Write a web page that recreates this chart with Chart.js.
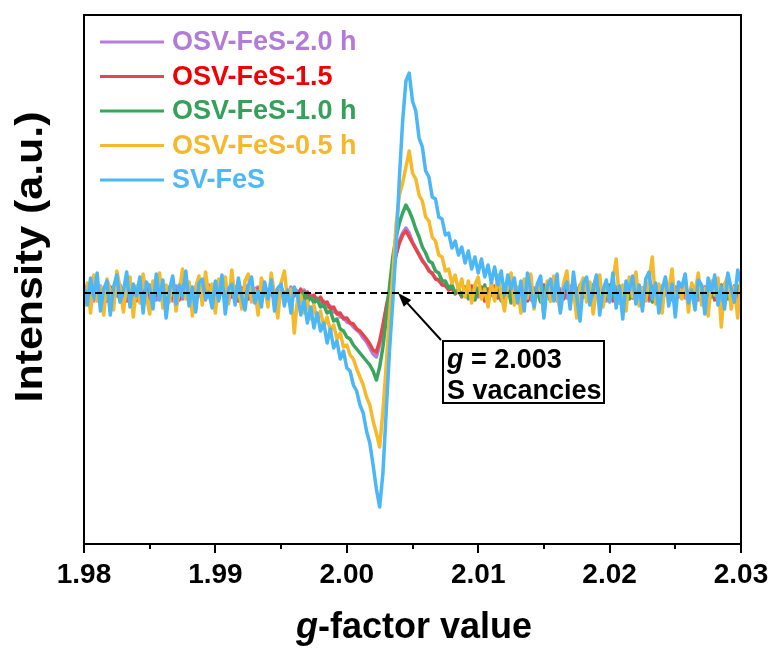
<!DOCTYPE html>
<html>
<head>
<meta charset="utf-8">
<script src="https://cdn.jsdelivr.net/npm/chart.js@4.4.1/dist/chart.umd.min.js"></script>
<style>
  html, body { margin: 0; padding: 0; background: #fff; }
  #wrap { width: 774px; height: 648px; }
</style>
</head>
<body>
<div id="wrap"><canvas id="epr" width="774" height="648"></canvas></div>
<script>
// sweep: g from 1.98 to 2.03, one sample every 0.00025
const gStart = 1.98;
const gStep = 0.00025;
const gTicks = [1.98, 1.99, 2.00, 2.01, 2.02, 2.03];
const gMinorTicks = [1.985, 1.995, 2.005, 2.015, 2.025];

const seriesNames = ["OSV-FeS-2.0 h", "OSV-FeS-1.5", "OSV-FeS-1.0 h", "OSV-FeS-0.5 h", "SV-FeS"];

// intensities (a.u.)
const osv20 = [
  5, -6, 3, -8, 4, 7, -5, 2, -7, 6,  -3, 8, -6, 1, -4, 7, -8, 3, 5, -6,
  8, -2, -7, 4, 6, -5, 2, -8, 7, -1,  -6, 5, 3, -8, 6, -2, 4, -7, 8, -4,
  2, -6, 5, 7, -8, 3, -3, 6, -5, 8,  -2, -7, 4, 6, -4, 1, -8, 7, 3, -6,
  5, -1, -7, 6, -3, 2, -6, 3, -7, -2,  -6, -5, -10, -8, -14, -13, -19, -19, -24, -24,
  -29, -30, -34, -37, -40, -45, -49, -55, -61, -64,  -52, -35, -16, 0, 22, 39, 52, 60, 65, 60,
  51, 45, 39, 33, 28, 23, 19, 15, 12, 9,  7, 4, 4, 0, 2, -3, 4, -6, 2, 7,
  -4, 5, -7, 1, 6, -3, 8, -6, 3, -2,  7, -8, 4, 6, -4, 2, -7, 5, -1, 8,
  -6, 3, -3, 6, -8, 4, 1, -5, 7, -2,  5, -7, 8, -4, 2, -6, 6, -1, 4, -8,
  3, 5, -6, 7, -2, -5, 2, 8, -7, 4,  -3, 6, -8, 1, 5, -6, 7, -2, 3, -7,
  6, -4, 8, -5, 1, -3, 6, -7, 4, 2,  -6, 7, -3, 5, -8, 3, 6, -4, 2, -7,
  5
];
const osv15 = [
  -4, 6, -7, 3, 8, -5, 2, -8, 6, -2,  7, -6, 4, -8, 5, 1, -7, 8, -3, 4,
  -6, 7, -2, 5, -8, 3, 6, -5, 2, -7,  8, -3, 5, -6, 1, 7, -8, 4, -2, 6,
  -5, 3, 8, -7, 2, -4, 6, -8, 5, 1,  -6, 7, -3, 4, -7, 8, -2, 5, -8, 3,
  6, -4, 2, -7, 5, -3, 4, -8, 1, -5,  -2, -8, -4, -11, -9, -16, -14, -21, -20, -26,
  -25, -30, -31, -36, -38, -42, -46, -51, -57, -59,  -48, -32, -14, 2, 22, 38, 50, 58, 62, 56,
  50, 44, 38, 32, 28, 22, 20, 14, 13, 8,  8, 3, 5, -1, 3, -4, 5, -3, 7, -6,
  2, 6, -8, 4, -2, 7, -5, 3, -7, 8,  -1, 5, -6, 2, 7, -8, 4, -3, 6, -5,
  8, -2, 3, -7, 5, 1, -6, 7, -4, 2,  -8, 6, -1, 4, -7, 8, -3, 5, -6, 2,
  7, -8, 3, -4, 6, -2, 8, -5, 1, -7,  5, 3, -6, 7, -3, 4, -8, 6, -2, 5,
  -7, 8, -4, 2, -6, 7, -1, 4, -8, 6,  -3, 5, -7, 3, 8, -5, 1, -6, 7, -4,
  4
];
const osv10 = [
  5, -8, 10, -4, 7, -10, 3, 9, -6, 2,  8, -9, 4, 11, -7, 6, -3, 9, -10, 5,
  2, -8, 10, -4, 6, -11, 3, 8, -6, 4,  -2, 10, -7, 3, -9, 6, 7, -4, 1, -8,
  6, -5, 9, -10, 2, 5, -7, 8, -2, -9,  4, 8, -6, 1, -8, 6, -4, 7, -9, 3,
  5, -7, 2, -10, 4, -2, -8, 1, -9, -4,  -10, -6, -14, -12, -20, -18, -28, -26, -36, -38,
  -44, -46, -52, -56, -60, -64, -68, -72, -78, -87,  -74, -54, -26, 6, 36, 56, 70, 80, 88, 82,
  74, 64, 56, 46, 40, 32, 30, 22, 20, 12,  12, 5, 8, 0, 4, -3, 6, -5, 3, -7,
  5, -2, 8, -9, 4, -5, 9, -8, 2, 7,  -10, 5, -3, 8, -7, 3, 10, -6, 1, -9,
  6, 4, -8, 9, -2, -10, 5, 7, -5, 2,  -8, 8, -4, 6, -9, 3, 9, -7, 1, -5,
  8, -3, 6, -10, 4, 7, -6, 2, 9, -8,  3, -4, 8, -9, 5, 1, -7, 10, -3, 6,
  -8, 4, -2, 9, -6, 3, -10, 7, 0, -5,  8, -4, 6, -8, 2, 9, -6, 4, -9, 7,
  -3
];
const osv05 = [
  -14, 10, -20, 18, -8, 6, -22, 14, 3, -17,  22, 5, -19, 9, 16, -24, 7, -10, 19, -3,
  -21, 12, 4, 20, -15, 8, -9, 15, -18, 2,  24, -6, 11, -23, 6, 17, -12, 21, -4, 9,
  -20, 14, 1, 16, -11, 23, -7, 5, -16, 12,  19, -9, 3, -22, 15, 6, -14, 20, -2, -25,
  10, 22, -8, 4, -40, -6, -2, -20, -8, -26,  -12, -28, -18, -34, -24, -38, -32, -46, -40, -54,
  -52, -62, -66, -76, -84, -92, -104, -112, -128, -140,  -154, -118, -72, -22, 18, 68, 98, 110, 126, 142,
  120, 114, 98, 92, 76, 72, 56, 52, 38, 36,  22, 24, 10, 18, 2, 14, -4, 12, -10, 8,
  16, -6, 4, -14, 11, -8, 18, -2, -18, 9,  20, -12, 6, -20, 14, -5, 19, -16, 8, 2,
  -22, 12, -8, 17, -3, -18, 10, 22, -12, 4,  -25, 7, 15, -9, 11, -21, 3, 18, -14, 6,
  -6, 13, 34, -10, 8, -18, 16, -4, 21, -13,  5, -8, 12, 36, -11, 9, -20, 14, 2, 24,
  -15, 7, -6, 17, -19, 10, 1, 20, -12, 5,  -23, 12, -2, 15, -34, 8, 18, -16, 6, -25,
  14
];
const svFeS = [
  8, -12, 15, -5, 20, -18, 4, 12, -22, 6,  18, -9, 2, 21, -14, 9, -3, 16, -20, 11,
  5, -16, 19, -7, 13, -25, 3, 17, -11, 8,  -4, 22, -13, 6, -19, 10, 14, -6, 1, -15,
  12, -8, 18, -21, 4, 9, -12, 15, -3, -17,  7, 16, -10, 2, -14, 11, -6, 13, -18, 5,
  9, -13, 3, -20, 6, -2, -22, -8, -30, -14,  -35, -20, -38, -30, -50, -36, -55, -48, -66, -58,
  -75, -78, -92, -98, -112, -120, -138, -150, -172, -196,  -214, -180, -118, -58, -8, 45, 115, 172, 212, 220,
  192, 182, 155, 146, 122, 116, 96, 94, 76, 74,  58, 60, 45, 52, 38, 46, 30, 42, 24, 36,
  20, 34, 16, 28, 10, 26, 8, 22, -2, 18,  4, 15, -10, 12, -18, 20, 2, -14, 9, 17,
  -25, 6, 14, -8, 19, -20, 4, 11, -16, 21,  -4, -28, 10, 16, -12, 5, 18, -22, 3, 13,
  -9, 20, -15, 7, -26, 12, 2, 17, -11, 8,  -18, 14, 21, -6, 10, -20, 4, 16, -13, 9,
  -24, 11, 6, 19, -10, 3, -17, 13, 8, -21,  15, 1, 18, -12, 7, -16, 20, 5, -9, 23,
  10
];
const baseline = [0, 0];
const markG = 2.0039;   // where the arrow points

const lineColors = ["#b57edb", "#e5464c", "#3aa65d", "#f6b92a", "#4cb7f7"];
const textColors = ["#b27bd9", "#f00000", "#35a05a", "#f6b82a", "#4fb9f6"];

const FONT = '"Liberation Sans", Arial, sans-serif';

const seriesData = [osv20, osv15, osv10, osv05, svFeS];
const toPoints = arr => arr.map((v, i) => ({ x: gStart + i * gStep, y: v }));

// higher order = drawn underneath, so SV-FeS ends up on top
const datasets = seriesData.map((arr, k) => ({
  label: seriesNames[k],
  data: toPoints(arr),
  borderColor: lineColors[k],
  borderWidth: 3.5,
  borderJoinStyle: "round",
  pointRadius: 0,
  tension: 0,
  order: 5 - k
}));
datasets.push({
  label: "baseline",
  data: [{ x: gTicks[0], y: baseline[0] }, { x: gTicks[gTicks.length - 1], y: baseline[1] }],
  borderColor: "#000",
  borderWidth: 2,
  borderDash: [7, 4],
  pointRadius: 0,
  order: 0
});

const decorations = {
  id: "decorations",
  afterDraw(chart) {
    const ctx = chart.ctx;
    const { left, right, top, bottom } = chart.chartArea;
    const xs = chart.scales.x, ys = chart.scales.y;
    ctx.save();

    // frame
    ctx.strokeStyle = "#000";
    ctx.lineWidth = 2;
    ctx.strokeRect(left, top, right - left, bottom - top);

    // minor ticks
    ctx.beginPath();
    for (const g of gMinorTicks) {
      const px = Math.round(xs.getPixelForValue(g));
      ctx.moveTo(px, bottom);
      ctx.lineTo(px, bottom + 5);
    }
    ctx.stroke();

    // x title with italic g
    ctx.fillStyle = "#000";
    ctx.textBaseline = "alphabetic";
    ctx.textAlign = "left";
    const fItal = "italic bold 36px " + FONT;
    const fBold = "bold 36px " + FONT;
    ctx.font = fItal;
    const w1 = ctx.measureText("g").width;
    ctx.font = fBold;
    const w2 = ctx.measureText("-factor value").width;
    const x0 = 414 - (w1 + w2) / 2;
    ctx.font = fItal;
    ctx.fillText("g", x0, 638);
    ctx.font = fBold;
    ctx.fillText("-factor value", x0 + w1, 638);

    // y title, a bit stretched along its length like the original
    ctx.save();
    ctx.translate(42, 257);
    ctx.rotate(-Math.PI / 2);
    ctx.scale(1.13, 1);
    ctx.textAlign = "center";
    ctx.font = "bold 38px " + FONT;
    ctx.fillText("Intensity (a.u.)", 0, 0);
    ctx.restore();

    // legend inside the plot
    ctx.font = "bold 27px " + FONT;
    ctx.textBaseline = "middle";
    seriesNames.forEach((name, k) => {
      const y = 42 + k * 34.5;
      ctx.strokeStyle = lineColors[k];
      ctx.lineWidth = 3;
      ctx.beginPath();
      ctx.moveTo(100, y);
      ctx.lineTo(164, y);
      ctx.stroke();
      ctx.fillStyle = textColors[k];
      ctx.fillText(name, 172, y + 1);
    });

    // annotation arrow
    const tipX = xs.getPixelForValue(markG), tipY = ys.getPixelForValue(0);
    const fromX = 441, fromY = 340;
    const ang = Math.atan2(tipY - fromY, tipX - fromX);
    ctx.strokeStyle = "#000";
    ctx.fillStyle = "#000";
    ctx.lineWidth = 2;
    ctx.beginPath();
    ctx.moveTo(fromX, fromY);
    ctx.lineTo(tipX - 8 * Math.cos(ang), tipY - 8 * Math.sin(ang));
    ctx.stroke();
    ctx.beginPath();
    ctx.moveTo(tipX, tipY);
    ctx.lineTo(tipX - 14 * Math.cos(ang) + 5 * Math.sin(ang), tipY - 14 * Math.sin(ang) - 5 * Math.cos(ang));
    ctx.lineTo(tipX - 14 * Math.cos(ang) - 5 * Math.sin(ang), tipY - 14 * Math.sin(ang) + 5 * Math.cos(ang));
    ctx.closePath();
    ctx.fill();

    // annotation box
    ctx.fillStyle = "#fff";
    ctx.fillRect(443, 341, 161, 62);
    ctx.strokeRect(443, 341, 161, 62);
    ctx.fillStyle = "#000";
    ctx.textBaseline = "alphabetic";
    ctx.font = "italic bold 27px " + FONT;
    ctx.fillText("g", 447, 368);
    const gw = ctx.measureText("g").width;
    ctx.font = "bold 27px " + FONT;
    ctx.fillText(" = 2.003", 447 + gw, 368);
    ctx.fillText("S vacancies", 447, 399);

    ctx.restore();
  }
};

new Chart(document.getElementById("epr"), {
  type: "line",
  data: { datasets },
  options: {
    responsive: false,
    devicePixelRatio: 1,
    animation: false,
    layout: { padding: { left: 0, top: 15, right: 33, bottom: 0 } },
    plugins: { legend: { display: false }, tooltip: { enabled: false } },
    scales: {
      x: {
        type: "linear",
        min: gTicks[0],
        max: gTicks[gTicks.length - 1],
        afterBuildTicks: scale => { scale.ticks = gTicks.map(v => ({ value: v })); },
        ticks: {
          callback: v => v.toFixed(2),
          color: "#000",
          font: { family: FONT, size: 28, weight: "bold" },
          padding: 5,
          maxRotation: 0,
          autoSkip: false
        },
        grid: { drawOnChartArea: false, color: "#000", lineWidth: 2, tickLength: 9 },
        border: { color: "#000", width: 2 },
        afterFit: scale => { scale.height = 104; }
      },
      y: {
        min: -251,
        max: 278,
        ticks: { display: false },
        grid: { display: false, drawTicks: false },
        border: { color: "#000", width: 2 },
        afterFit: scale => { scale.width = 84; }
      }
    }
  },
  plugins: [decorations]
});
</script>
</body>
</html>
